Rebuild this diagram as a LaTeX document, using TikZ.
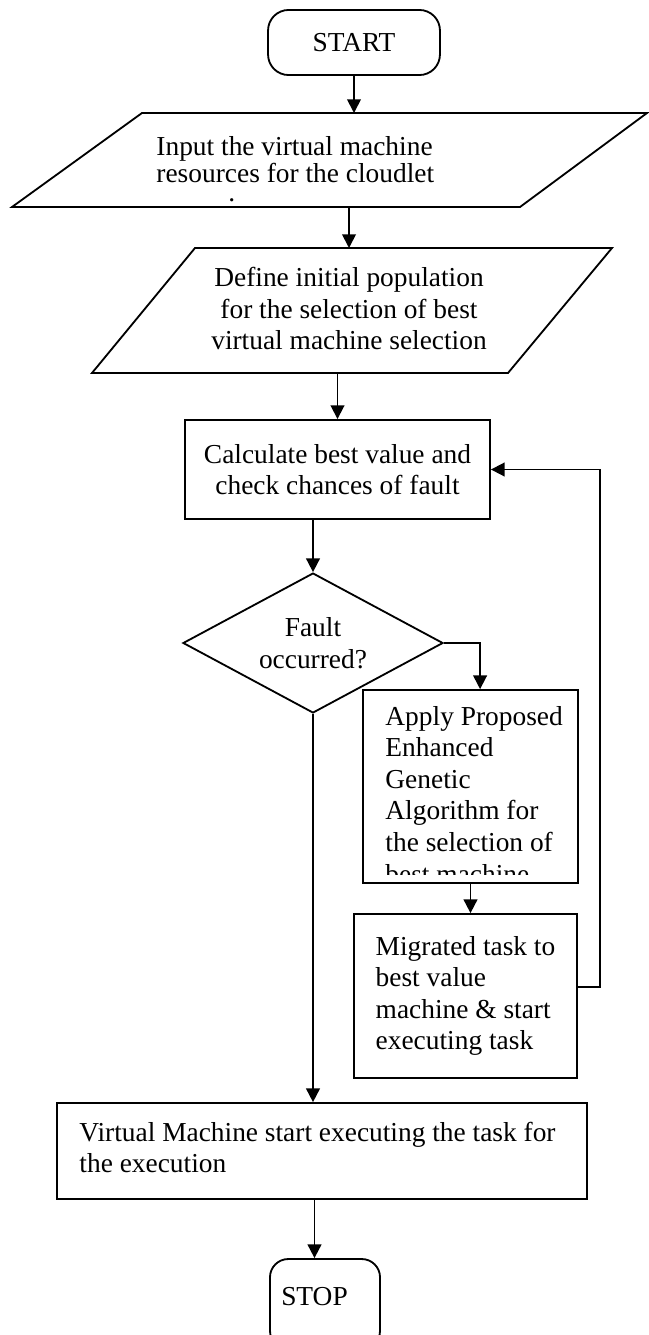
\documentclass[tikz,border=0pt]{standalone}
\usepackage{fontspec}
\setmainfont{Liberation Serif}
\usetikzlibrary{shapes.geometric,arrows.meta}

\begin{document}
\begin{tikzpicture}[x=0.438pt,y=-0.438pt,
    every node/.style={font=\fontsize{12pt}{13.8pt}\selectfont},
    term/.style={draw, line width=0.8pt, rounded corners=9pt},
    box/.style={draw, line width=0.8pt, inner sep=0pt},
    decide/.style={diamond, draw, line width=0.8pt, inner sep=0pt, aspect=1.86},
    txt/.style={inner sep=0pt},
    arr/.style={-{Triangle[length=6pt,width=6pt]}, line width=0.8pt},
]
\useasboundingbox (0,0) rectangle (649,1335);

% terminals
\node[term, minimum width=75.3pt, minimum height=28.5pt] (start) at (354,42.5) {START};
\node[term, rounded corners=8pt, minimum width=48.2pt, minimum height=39.4pt] (stop) at (325,1304) {};
\node[txt] (stoptxt) at (314.5,1297) {STOP};

% input shapes
\coordinate (p1nw) at (142,113);
\coordinate (p1ne) at (647,113);
\coordinate (p1se) at (520,207);
\coordinate (p1sw) at (12,207);
\draw[line width=0.8pt] (p1nw) -- (p1ne) -- (p1se) -- (p1sw) -- cycle;
\node[txt, anchor=north west, align=left, font=\fontsize{12pt}{11.8pt}\selectfont] (in1) at (156,136)
    {Input the virtual machine\\resources for the cloudlet\\[-3.5pt]\hspace*{31.5pt}.};

\coordinate (p2nw) at (195,248);
\coordinate (p2ne) at (612,248);
\coordinate (p2se) at (508,373);
\coordinate (p2sw) at (92,373);
\draw[line width=0.8pt] (p2nw) -- (p2ne) -- (p2se) -- (p2sw) -- cycle;
\node[txt, align=center] (in2) at (349,308.5)
    {Define initial population\\for the selection of best\\virtual machine selection};

% process boxes
\node[box, align=center, minimum width=133.6pt, minimum height=43.4pt] (calc) at (337.5,469.5)
    {Calculate best value and\\check chances of fault};
\node[decide, align=center, minimum width=113.9pt, minimum height=61.3pt] (dec) at (313,643)
    {Fault\\occurred?};
\node[box, minimum width=94.2pt, minimum height=84.5pt] (apply) at (470.5,786.5) {};
\begin{scope}
\clip (363,690) rectangle (578,874);
\node[txt, anchor=north west, align=left] (applytxt) at (385,706)
    {Apply Proposed\\Enhanced\\Genetic\\Algorithm for\\the selection of\\best machine};
\end{scope}
\node[box, align=left, minimum width=97.7pt, minimum height=71.8pt] (migr) at (465.5,996)
    {Migrated task to\\best value\\machine \& start\\executing task};
\node[box, minimum width=232.1pt, minimum height=42pt] (vm) at (322,1151) {};
\node[txt, anchor=west, align=left] (vmtxt) at (79,1147.5)
    {Virtual Machine start executing the task for\\the execution};

\coordinate (fb) at (600,0);

% connectors
\draw[arr] (start.south) -- (start.south |- p1nw);
\draw[arr] (in2 |- p1sw) -- (in2 |- p2nw);
\draw[arr] (calc.north |- p2sw) -- (calc.north);
\draw[arr] (dec.north |- calc.south) -- (dec.north);
\draw[arr] (dec.east) -| ([xshift=4.2pt]apply.north);
\draw[arr] (apply.south) -- (apply.south |- migr.north);
\draw[arr] ([yshift=4pt]migr.east) -| (fb |- calc.east) -- (calc.east);
\draw[arr] (dec.south) -- (dec.south |- vm.north);
\draw[arr] (stoptxt |- vm.south) -- (stoptxt |- stop.north);

\end{tikzpicture}
\end{document}
